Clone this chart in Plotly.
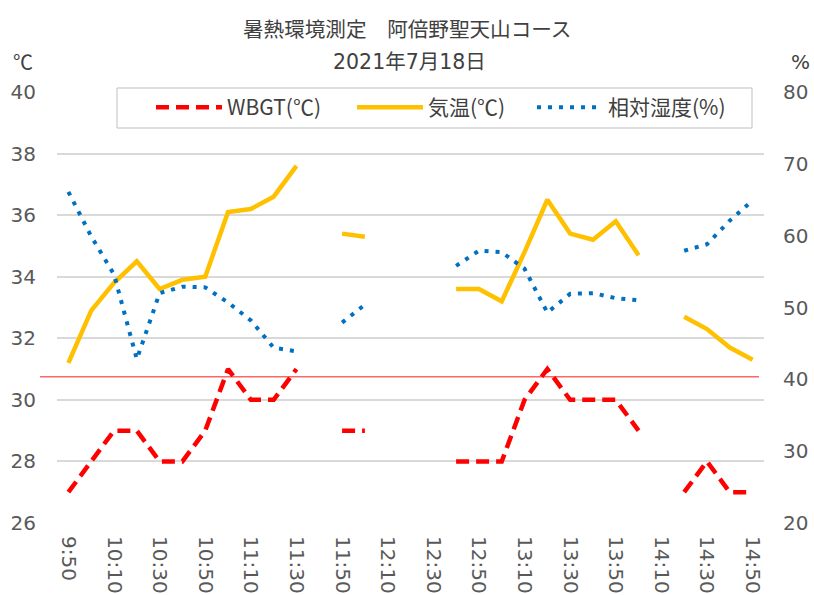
import plotly.graph_objects as go

times = ["9:50", "10:00", "10:10", "10:20", "10:30", "10:40", "10:50", "11:00", "11:10", "11:20",
         "11:30", "11:40", "11:50", "12:00", "12:10", "12:20", "12:30", "12:40", "12:50", "13:00",
         "13:10", "13:20", "13:30", "13:40", "13:50", "14:00", "14:10", "14:20", "14:30", "14:40", "14:50"]

wbgt = [27, 28, 29, 29, 28, 28, 29, 31, 30, 30,
        31, None, 29, 29, None, None, None, 28, 28, 28,
        30, 31, 30, 30, 30, 29, None, 27, 28, 27, 27]

temp = [31.2, 32.9, 33.8, 34.5, 33.6, 33.9, 34.0, 36.1, 36.2, 36.6,
        37.6, None, 35.4, 35.3, None, None, None, 33.6, 33.6, 33.2,
        34.8, 36.5, 35.4, 35.2, 35.8, 34.7, None, 32.7, 32.3, 31.7, 31.3]

humidity = [66.1, 59.9, 54.6, 42.8, 52.0, 52.9, 52.8, 50.7, 48.2, 44.4,
            43.9, None, 47.9, 50.4, None, None, None, 55.8, 57.9, 57.7,
            55.4, 49.3, 51.9, 52.0, 51.3, 51.0, None, 57.9, 58.8, 62.1, 64.9]

tick_labels = times[::2]
threshold = 30.75

title_line1 = "暑熱環境測定\u3000阿倍野聖天山コース"
title_line2 = "2021年7月18日"

CJK = "Noto Sans CJK JP, sans-serif"
LAT = "DejaVu Sans, Noto Sans CJK JP, sans-serif"

fig = go.Figure()
fig.add_trace(go.Scatter(x=times, y=wbgt, name="WBGT(℃)", mode="lines", legend="legend",
                         line=dict(color="#FF0000", width=4.5, dash="13px,7px")))
fig.add_trace(go.Scatter(x=times, y=temp, name="気温(℃)", mode="lines", legend="legend2",
                         line=dict(color="#FFC000", width=4.5)))
fig.add_trace(go.Scatter(x=times, y=humidity, name="相対湿度(%)", mode="lines", yaxis="y2",
                         legend="legend3",
                         line=dict(color="#0070C0", width=4, dash="4px,7px")))

L, R, T, B = 57, 50, 92, 72
W, H = 814, 595
pw, ph = W - L - R, H - T - B

def px_x(p):
    return (p - L) / pw

def px_y(p):
    return (H - B - p) / ph

def legend_at(px):
    return dict(orientation="h", x=px_x(px), y=px_y(87), xanchor="left", yanchor="top",
                bgcolor="rgba(0,0,0,0)", borderwidth=0, itemwidth=66,
                font=dict(family=CJK, size=21, color="#404040"))

fig.update_layout(
    width=W, height=H,
    margin=dict(l=L, r=R, t=T, b=B, autoexpand=False),
    paper_bgcolor="white", plot_bgcolor="white",
    font=dict(family=LAT, size=20, color="#595959"),
    showlegend=True,
    legend=legend_at(151),
    legend2=legend_at(352),
    legend3=legend_at(532),
    xaxis=dict(type="category", categoryorder="array", categoryarray=times,
               range=[-0.5, len(times) - 0.5], tickmode="array", tickvals=tick_labels,
               ticktext=tick_labels, tickangle=90, showgrid=False, zeroline=False,
               showline=False, ticks="outside", ticklen=8, tickcolor="rgba(0,0,0,0)",
               automargin=False, tickfont=dict(family=LAT, size=20, color="#595959")),
    yaxis=dict(range=[26, 40], dtick=2, showgrid=True, gridcolor="#D9D9D9", gridwidth=1.5,
               zeroline=False, showline=False, ticks="outside", ticklen=16,
               tickcolor="rgba(0,0,0,0)", automargin=False,
               tickfont=dict(family=LAT, size=20, color="#595959")),
    yaxis2=dict(range=[20, 80], dtick=10, overlaying="y", side="right", showgrid=False,
                zeroline=False, showline=False, ticks="outside", ticklen=14,
                tickcolor="rgba(0,0,0,0)", automargin=False,
                tickfont=dict(family=LAT, size=20, color="#595959")),
)

fig.add_shape(type="line", xref="paper", yref="y", x0=px_x(40), x1=px_x(759),
              y0=threshold, y1=threshold, line=dict(color="rgba(255,0,0,0.6)", width=1.5),
              layer="above")
fig.add_shape(type="rect", xref="paper", yref="paper", x0=px_x(117), x1=px_x(752),
              y0=px_y(128), y1=px_y(88), fillcolor="white",
              line=dict(color="#BFBFBF", width=1), layer="above")

fig.add_annotation(text=title_line1, xref="paper", yref="paper", x=px_x(406.5), y=px_y(28),
                   showarrow=False, font=dict(family=CJK, size=20.6, color="#404040"),
                   xanchor="center", yanchor="middle")
fig.add_annotation(text=title_line2, xref="paper", yref="paper", x=px_x(409), y=px_y(62),
                   showarrow=False, font=dict(family=LAT, size=20.5, color="#404040"),
                   xanchor="center", yanchor="middle")
fig.add_annotation(text="℃", xref="paper", yref="paper", x=px_x(23), y=px_y(62),
                   showarrow=False, font=dict(family=CJK, size=20, color="#404040"),
                   xanchor="center", yanchor="middle")
fig.add_annotation(text="%", xref="paper", yref="paper", x=px_x(800), y=px_y(62),
                   showarrow=False, font=dict(family=LAT, size=20, color="#404040"),
                   xanchor="center", yanchor="middle")

fig.write_html("out.html", config={"displayModeBar": False},
               post_script="document.body.style.margin='0';document.body.style.overflow='hidden';")
